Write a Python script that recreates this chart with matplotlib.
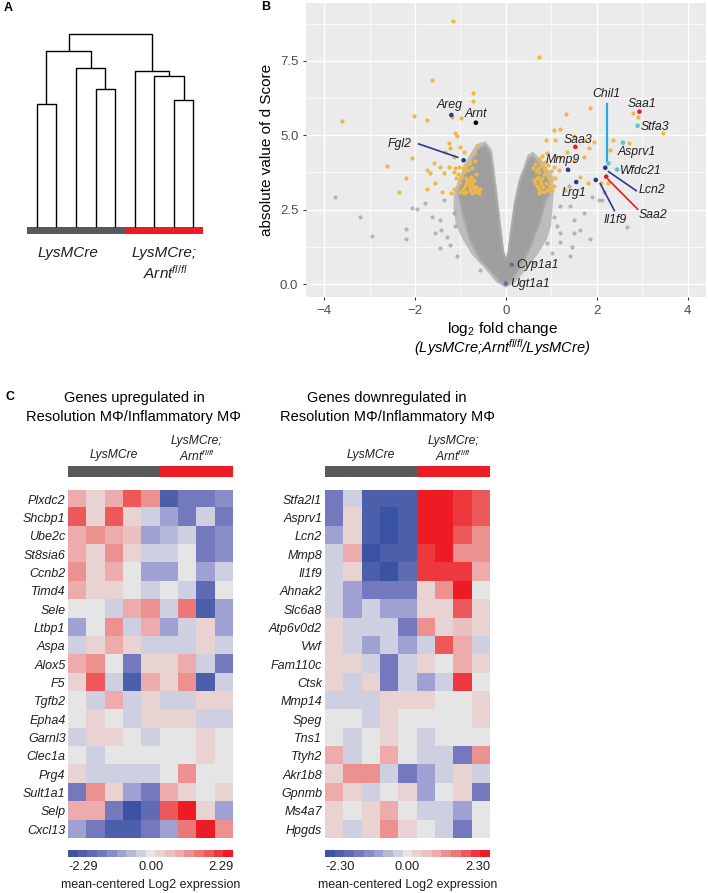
import numpy as np
import matplotlib
matplotlib.use("Agg")
import matplotlib.pyplot as plt
from matplotlib.colors import LinearSegmentedColormap, ListedColormap, BoundaryNorm

plt.rcParams['font.family'] = ['Liberation Sans', 'DejaVu Sans']
plt.rcParams['mathtext.fontset'] = 'custom'
plt.rcParams['mathtext.rm'] = 'Liberation Sans'
plt.rcParams['mathtext.it'] = 'Liberation Sans:italic'

W, H = 708, 893

# ---------------- panel A: dendrogram (linkage: left, right, height)
n_leaves = 9
leaf_group = ['LysMCre'] * 5 + ['LysMCre;Arnt'] * 4
linkage = [(0, 1, 1.23), (3, 4, 1.38), (2, 10, 1.59), (9, 11, 1.76),
           (7, 8, 1.27), (6, 13, 1.51), (5, 14, 1.56), (12, 15, 1.93)]

# ---------------- panel B: volcano
# dense grey cloud outline (log2 FC, |d|) and its looser halo
cloud_x = [0.0, -0.12, -0.3, -0.57, -0.79, -0.93, -1.0, -1.05, -0.95, -0.75, -0.6, -0.45,
           -0.35, -0.3, -0.22, -0.13, -0.06, 0.0, 0.06, 0.13, 0.22, 0.33, 0.42, 0.5, 0.58,
           0.75, 0.95, 0.95, 0.87, 0.76, 0.54, 0.32, 0.12]
cloud_y = [-0.02, 0.08, 0.4, 0.85, 1.5, 2.25, 2.8, 3.1, 3.5, 4.1, 4.55, 4.65,
           4.4, 3.9, 3.0, 1.9, 1.1, 0.8, 1.1, 1.9, 2.8, 3.5, 3.85, 4.2, 4.3,
           4.0, 3.5, 3.0, 2.8, 2.15, 1.26, 0.6, 0.12]
halo_x = [0.0, -0.2, -0.45, -0.75, -0.95, -1.1, -1.15, -1.15, -1.05, -0.85, -0.65, -0.45,
          -0.3, -0.25, -0.18, -0.1, -0.04, 0.0, 0.04, 0.1, 0.18, 0.28, 0.38, 0.48, 0.6,
          0.8, 1.05, 1.05, 1.0, 0.9, 0.7, 0.45, 0.2]
halo_y = [-0.12, 0.05, 0.5, 1.0, 1.5, 2.0, 2.5, 3.0, 3.5, 4.2, 4.7, 4.8,
          4.5, 3.9, 3.0, 1.9, 1.05, 0.7, 1.05, 1.9, 2.8, 3.5, 3.9, 4.35, 4.45,
          4.15, 3.6, 3.0, 2.0, 1.5, 1.0, 0.5, 0.05]
grey_x = [-3.76, -3.22, -2.95, -2.20, -2.20, -2.06, -1.96, -1.78, -1.63, -1.45, -1.42, -1.37,
          -1.24, -1.08, -1.30, -1.12, -1.45, -1.56, -1.15, -0.57,
          2.17, 2.04, 2.11, 2.67, 1.89, 1.42, 1.20, 1.64, 1.86, 1.45, 1.38, 1.49, 1.20, 1.05,
          1.01, 1.42, 0.90, 1.12, 1.71, 0.61, 1.20, 1.49]
grey_y = [2.94, 2.27, 1.62, 1.85, 1.52, 2.55, 2.52, 2.74, 2.27, 2.16, 1.82, 2.83,
          1.32, 0.93, 1.60, 1.94, 1.21, 1.71, 2.38, 0.48,
          3.08, 2.83, 2.83, 1.91, 2.92, 2.61, 2.61, 1.82, 1.51, 1.26, 3.28, 1.71, 1.71, 2.27,
          1.04, 0.93, 1.38, 1.94, 2.38, 0.70, 1.43, 2.16]
sig_x = [-1.17, -1.62, -0.73, -0.73, -3.60, -2.02, -1.73, -1.18, -0.99, -1.13, -1.08, -2.61,
         -2.06, -2.20, -2.36, -1.74, -1.67, -1.59, -1.46, -1.37, -1.40, -1.74, -1.56, -1.26,
         -1.23, -1.34, -1.15, -1.01, -0.92, -0.71, -0.62, -0.79, -0.68, -1.15, -1.26, -1.04,
         -1.05, -0.98, -0.92, -0.88, -0.85, -0.82, -0.80, -0.78, -0.75, -0.72, -0.70, -0.68,
         -0.65, -0.62, -0.90, -0.95, -1.00, -1.02, -0.87, -0.77, -0.70, -0.83, -0.95, -0.60,
         -0.58, -0.74, -1.10, -1.15, -1.20, -0.90, -0.75, -0.66, -0.88, -0.80, -0.92, -1.12,
         0.74, 1.86, 1.33, 2.80, 2.92, 3.45, 1.05, 1.20, 0.89, 1.09, 1.49, 1.75,
         1.95, 2.37, 2.72, 2.30, 1.82, 1.71, 1.34, 1.20, 1.49, 1.64, 1.81, 2.10,
         2.25, 1.31, 1.05, 0.98, 1.16,
         0.62, 0.65, 0.68, 0.70, 0.72, 0.75, 0.78, 0.80, 0.82, 0.85, 0.88, 0.90,
         0.92, 0.95, 0.98, 0.66, 0.70, 0.74, 0.78, 0.83, 0.87, 0.60, 0.64, 0.72,
         0.80, 0.86, 0.93, 1.00, 0.76, 0.85, 1.02, 1.05, 0.90, 0.68, 0.73, 1.08]
sig_y = [8.84, 6.86, 6.41, 6.16, 5.47, 5.65, 5.50, 5.60, 5.58, 5.09, 4.96, 3.98,
         4.25, 3.56, 3.11, 3.84, 3.72, 4.06, 3.95, 3.72, 3.08, 3.19, 3.39, 4.73,
         4.56, 4.45, 4.28, 4.62, 4.45, 4.40, 4.65, 4.06, 4.12, 3.78, 3.95, 3.95,
         3.70, 3.60, 3.75, 3.55, 3.45, 3.35, 3.25, 3.15, 3.40, 3.30, 3.20, 3.10,
         3.25, 3.15, 3.30, 3.20, 3.40, 3.10, 3.10, 3.60, 3.50, 3.85, 3.90, 3.05,
         3.20, 3.05, 3.55, 3.20, 3.05, 4.00, 3.90, 3.70, 3.40, 3.50, 3.05, 3.90,
         7.64, 5.91, 5.72, 5.76, 5.60, 5.09, 5.16, 5.20, 4.84, 4.84, 4.96, 4.84,
         4.79, 4.84, 4.75, 4.51, 4.56, 4.28, 4.45, 4.28, 4.12, 3.61, 3.39, 3.41,
         3.39, 3.17, 3.28, 3.17, 3.84,
         3.50, 3.40, 3.30, 3.60, 3.20, 3.45, 3.35, 3.55, 3.25, 3.70, 3.40, 3.15,
         3.60, 3.30, 3.50, 3.80, 3.90, 3.75, 4.00, 3.90, 3.85, 3.90, 4.05, 4.20,
         4.30, 4.10, 4.00, 3.80, 3.10, 3.10, 3.15, 3.95, 4.40, 3.55, 3.05, 3.55]

hl_genes = ['Areg', 'Arnt', 'Fgl2', 'Chil1', 'Saa1', 'Stfa3', 'Asprv1', 'Wfdc21', 'Lcn2',
            'Saa2', 'Il1f9', 'Saa3', 'Mmp9', 'Lrg1', 'Cyp1a1', 'Ugt1a1']
hl_x = [-1.20, -0.66, -0.93, 2.26, 2.94, 2.90, 2.58, 2.45, 2.19, 2.21, 1.98, 1.53, 1.37, 1.55, 0.13, 0.0]
hl_y = [5.68, 5.42, 4.16, 4.06, 5.79, 5.32, 4.75, 3.85, 3.91, 3.61, 3.50, 4.61, 3.84, 3.43, 0.65, 0.02]
hl_col = ['#2B3990', '#000000', '#2B3990', '#5CC6D0', '#E31E24', '#5CC6D0', '#5CC6D0', '#5CC6D0',
          '#2B3990', '#E31E24', '#2B3990', '#E31E24', '#2B3990', '#2B3990', '#7E62A8', '#7E62A8']
lab_x = [-1.24, -0.65, -2.33, 2.22, 2.99, 3.29, 2.89, 2.97, 3.22, 3.25, 2.41, 1.59, 1.26, 1.49, 0.23, 0.10]
lab_y = [6.02, 5.73, 4.71, 6.39, 6.05, 5.28, 4.43, 3.80, 3.17, 2.33, 2.16, 4.84, 4.17, 3.05, 0.63, 0.0]
# leader lines: gene -> (x0, y0, x1, y1, colour)
leaders = {'Fgl2': (-1.92, 4.71, -1.06, 4.26, '#2B3990'),
           'Chil1': (2.23, 6.05, 2.23, 4.14, '#29ABE2'),
           'Lcn2': (2.26, 3.78, 2.87, 3.14, '#2B3990'),
           'Saa2': (2.25, 3.52, 2.90, 2.52, '#E31E24'),
           'Il1f9': (2.08, 3.37, 2.39, 2.47, '#2B3990')}

# ---------------- panel C: heatmaps
up_genes = ['Plxdc2', 'Shcbp1', 'Ube2c', 'St8sia6', 'Ccnb2', 'Timd4', 'Sele', 'Ltbp1', 'Aspa',
            'Alox5', 'F5', 'Tgfb2', 'Epha4', 'Garnl3', 'Clec1a', 'Prg4', 'Sult1a1', 'Selp', 'Cxcl13']
up_vals = [
    [0.8, 0.4, 0.8, 1.6, 1.2, -1.8, -1.4, -1.4, -1.0],
    [1.6, 0.4, 1.7, 0.2, -0.4, -0.9, -1.3, -0.4, -1.4],
    [0.8, 1.2, 0.9, 0.5, -0.9, -0.6, -0.4, -1.4, -1.0],
    [0.8, 0.4, 1.2, 0.3, -0.4, -0.4, 0.0, -1.4, -1.0],
    [1.2, 0.4, 0.8, 0.0, -0.9, -0.9, 0.0, -0.9, -0.2],
    [0.8, 0.4, 0.4, 0.0, -0.4, 0.0, -0.4, -1.5, 0.0],
    [0.0, 0.0, -0.4, 0.8, 1.2, -0.4, 1.3, -1.8, -0.9],
    [-0.8, 0.0, 1.2, -0.4, 0.9, -0.9, -0.4, 0.3, -0.9],
    [-0.4, 0.4, 0.8, 0.3, -0.4, -0.4, -0.4, 0.3, -0.4],
    [0.8, 1.2, 0.0, -1.4, 0.4, 0.4, 0.8, -0.4, -1.3],
    [0.4, 1.6, -0.4, -2.0, 0.8, 0.4, 1.2, -1.8, -0.4],
    [0.0, -0.4, 0.8, -0.4, 0.3, -0.4, -0.4, 0.4, 0.4],
    [0.0, 0.2, 0.0, -0.4, 0.4, 0.4, 0.4, -0.4, -0.4],
    [-0.4, 0.2, 0.4, 0.0, -0.4, 0.0, 0.0, 0.4, 0.0],
    [0.0, -0.15, 0.0, 0.0, 0.0, 0.0, 0.0, 0.4, 0.0],
    [0.4, -0.4, -0.4, -0.15, -0.4, 0.0, 1.0, 0.0, 0.0],
    [-1.3, 1.2, 0.4, -0.9, -1.3, 0.7, 0.4, 0.0, 0.4],
    [0.8, 0.8, -1.3, -2.1, -1.6, 1.5, 2.29, 0.4, -0.8],
    [-0.8, -1.4, -1.8, -1.8, -1.3, -0.8, 1.4, 2.29, 1.1],
]
down_genes = ['Stfa2l1', 'Asprv1', 'Lcn2', 'Mmp8', 'Il1f9', 'Ahnak2', 'Slc6a8', 'Atp6v0d2', 'Vwf',
              'Fam110c', 'Ctsk', 'Mmp14', 'Speg', 'Tns1', 'Ttyh2', 'Akr1b8', 'Gpnmb', 'Ms4a7', 'Hpgds']
down_vals = [
    [-1.3, -0.4, -2.0, -2.0, -2.0, 2.2, 2.2, 1.9, 1.5],
    [-1.3, 0.4, -2.0, -2.1, -1.9, 2.1, 2.1, 1.9, 1.5],
    [-0.9, 0.4, -1.9, -2.1, -1.9, 2.1, 2.1, 1.6, 1.2],
    [-0.4, 0.8, -2.1, -2.0, -1.9, 1.8, 2.1, 1.1, 1.1],
    [-0.4, 0.4, -1.9, -2.2, -1.7, 1.9, 1.9, 1.9, 0.9],
    [-0.4, -0.9, -1.3, -1.3, -1.3, 0.4, 1.2, 2.2, 0.0],
    [-0.4, -0.9, -0.4, -0.9, -0.9, 0.4, 0.4, 1.5, 0.4],
    [0.4, -0.4, -0.4, -0.4, -1.3, 1.1, 0.4, 0.6, 0.4],
    [0.4, -0.4, -0.9, -0.4, -0.9, -0.2, 1.5, 0.8, -0.2],
    [0.4, 0.4, -0.4, -1.4, -0.4, 0.4, 0.0, 0.8, 0.4],
    [0.4, -0.4, 0.4, -1.4, -0.4, -0.9, -0.4, 1.9, 0.0],
    [-0.4, -0.4, -0.4, 0.4, 0.2, 0.4, 0.0, 0.0, 0.4],
    [0.0, 0.0, -0.4, 0.4, 0.0, 0.0, 0.0, 0.0, 0.15],
    [0.0, -0.4, 0.0, 0.4, 0.0, -0.4, 0.0, 0.0, 0.0],
    [0.8, -0.4, 0.0, 0.8, 0.0, -0.4, -0.4, -1.4, 1.2],
    [0.4, 1.2, 1.2, -0.4, -1.4, -0.9, -0.4, 0.4, -0.4],
    [0.8, 0.4, -0.4, 0.0, 0.4, -0.9, 0.0, 0.4, -1.4],
    [0.4, 0.0, 0.4, 0.8, 0.0, -0.4, -0.4, -0.9, 0.0],
    [0.4, -0.4, 0.4, 1.2, 0.4, 0.0, -0.4, -1.4, 0.0],
]
sample_group = [0, 0, 0, 0, 0, 1, 1, 1, 1]
up_range = 2.29
down_range = 2.30

GREY = '#58595B'
RED = '#ED1C24'


def box(l, t, r, b):
    return [l / W, 1 - b / H, (r - l) / W, (b - t) / H]


def ftext(x, y, s, **kw):
    fig.text(x / W, 1 - y / H, s, **kw)


fig = plt.figure(figsize=(W / 100, H / 100), dpi=100)

# ---- A
ax = fig.add_axes(box(26.9, 27, 203.3, 234))
pos = {i: (float(i), 0.0) for i in range(n_leaves)}
for k, (a, b, h) in enumerate(linkage):
    xa, ha = pos[a]
    xb, hb = pos[b]
    ax.plot([xa, xa, xb, xb], [ha, h, h, hb], color='black', lw=1.0, solid_capstyle='butt')
    pos[n_leaves + k] = ((xa + xb) / 2, h)
ax.bar(range(n_leaves), 0.07, bottom=-0.07, width=1.0,
       color=[GREY if g == 'LysMCre' else RED for g in leaf_group])
ax.set_xlim(-0.5, 8.5)
ax.set_ylim(-0.07, 2.0)
ax.axis('off')
ax.text(1.61, -0.26, 'LysMCre', style='italic', fontsize=11, ha='center', va='center', color='#231F20')
ax.text(6.52, -0.26, 'LysMCre;', style='italic', fontsize=11, ha='center', va='center', color='#231F20')
ax.text(6.55, -0.46, 'Arnt$^{fl/fl}$', style='italic', fontsize=11, ha='center', va='center', color='#231F20')
ftext(8.5, 8, 'A', fontsize=9, fontweight='bold', ha='center', va='center')

# ---- B
ax = fig.add_axes(box(306, 3, 705.7, 297))
ax.set_facecolor('#EBEBEB')
ax.set_xlim(-4.4, 4.4)
ax.set_ylim(-0.43, 9.44)
ax.set_xticks([-4, -2, 0, 2, 4])
ax.set_yticks([0, 2.5, 5, 7.5])
ax.set_yticklabels(['0.0', '2.5', '5.0', '7.5'])
ax.set_xticks([-3, -1, 1, 3], minor=True)
ax.set_yticks([1.25, 3.75, 6.25, 8.75], minor=True)
ax.grid(which='major', color='white', lw=1.0)
ax.grid(which='minor', color='white', lw=0.5)
ax.set_axisbelow(True)
for s in ax.spines.values():
    s.set_visible(False)
ax.tick_params(which='major', length=2.5, width=0.8, color='#333333', labelcolor='#4D4D4D',
               labelsize=9.5, pad=3)
ax.tick_params(which='minor', length=0)
ax.set_ylabel('absolute value of d Score', fontsize=11, labelpad=4)
ax.fill(halo_x, halo_y, color='#B4B4B4', lw=0, alpha=0.85, zorder=2)
ax.fill(cloud_x, cloud_y, color='#9E9E9E', lw=1.5, ec='#A8A8A8', zorder=2)
ax.scatter(grey_x, grey_y, s=9, color='#A3A3A3', alpha=0.75, lw=0, zorder=2)
ax.scatter(sig_x, sig_y, s=9, color='#EDB845', lw=0, zorder=3)
for g, (x0, y0, x1, y1, c) in leaders.items():
    ax.plot([x0, x1], [y0, y1], color=c, lw=1.6 if g == 'Chil1' else 1.2, zorder=4)
ax.scatter(hl_x, hl_y, s=11, c=hl_col, lw=0, zorder=5)
for g, x, y in zip(hl_genes, lab_x, lab_y):
    ha = 'left' if g in ('Cyp1a1', 'Ugt1a1') else 'center'
    ax.text(x, y, g, style='italic', fontsize=8.8, ha=ha, va='center', color='#231F20', zorder=6)
ftext(503, 329, 'log$_2$ fold change', fontsize=11, ha='center', va='center')
ftext(502, 348, '(LysMCre;Arnt$^{fl/fl}$/LysMCre)', style='italic', fontsize=10.5, ha='center', va='center')
ftext(266, 7.5, 'B', fontsize=9, fontweight='bold', ha='center', va='center')

# ---- C
base = LinearSegmentedColormap.from_list(
    'dv', ['#3A53A4', '#6C73B9', '#A6A8D6', '#E6E6E6', '#EDB5B5', '#EE6F6F', '#ED1C24'])
n_lev = 17
cmap = ListedColormap(base(np.linspace(0, 1, n_lev)))

ftext(10, 397, 'C', fontsize=9, fontweight='bold', ha='center', va='center')
panels = [(68.3, 233.3, 134, 'upregulated', up_genes, up_vals, up_range),
          (325.0, 490.0, 387, 'downregulated', down_genes, down_vals, down_range)]
for l, r, tc, word, genes, vals, vr in panels:
    ftext(tc, 398, 'Genes %s in' % word, fontsize=10.5, ha='center', va='center')
    ftext(tc, 417, 'Resolution M\u03a6/Inflammatory M\u03a6', fontsize=10.5, ha='center', va='center')
    cw = (r - l) / 9

    # group bar
    gax = fig.add_axes(box(l, 465.7, r, 477.3))
    gax.bar(range(9), 1, width=1.0, color=[GREY if g == 0 else RED for g in sample_group])
    gax.set_xlim(-0.5, 8.5)
    gax.set_ylim(0, 1)
    gax.axis('off')
    ftext(l + 2.5 * cw, 455, 'LysMCre', style='italic', fontsize=8.7, ha='center', va='center', color='#231F20')
    ftext(l + 7 * cw, 441, 'LysMCre;', style='italic', fontsize=8.7, ha='center', va='center', color='#231F20')
    ftext(l + 7 * cw, 456, 'Arnt$^{fl/fl}$', style='italic', fontsize=8.7, ha='center', va='center', color='#231F20')

    norm = BoundaryNorm(np.linspace(-vr, vr, n_lev + 1), n_lev, clip=True)
    hax = fig.add_axes(box(l, 490, r, 838.3))
    hax.imshow(np.array(vals), cmap=cmap, norm=norm, aspect='auto', interpolation='nearest')
    hax.set_xticks([])
    hax.set_yticks(range(len(genes)))
    hax.set_yticklabels(genes, style='italic', fontsize=9, color='#231F20')
    hax.tick_params(length=0, pad=2)
    for s in hax.spines.values():
        s.set_visible(False)

    # colour key
    cax = fig.add_axes(box(l, 850, r, 857.3))
    cax.imshow(np.arange(n_lev)[None, :], cmap=cmap, aspect='auto', interpolation='nearest')
    cax.axis('off')
    ftext(l, 867, '%.2f' % -vr, fontsize=9.3, ha='left', va='center', color='#231F20')
    ftext((l + r) / 2, 867, '0.00', fontsize=9.3, ha='center', va='center', color='#231F20')
    ftext(r, 867, '%.2f' % vr, fontsize=9.3, ha='right', va='center', color='#231F20')
    ftext((l + r) / 2, 885, 'mean-centered Log2 expression', fontsize=9, ha='center', va='center',
          color='#231F20')

fig.savefig('out.png', dpi=100)
